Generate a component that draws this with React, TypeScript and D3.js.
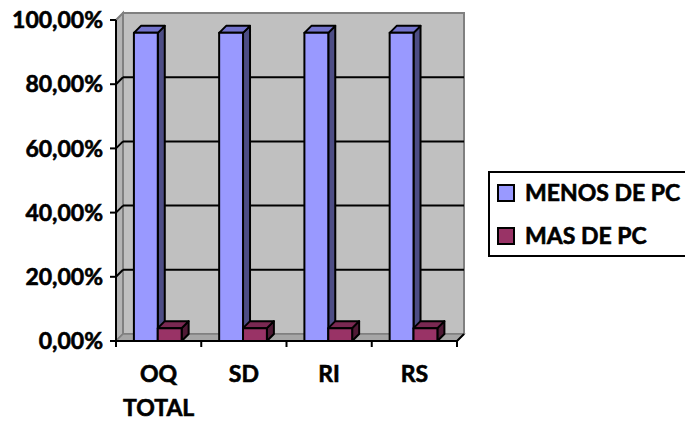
import React from 'react';
import * as d3 from 'd3';

const categories = ['OQ TOTAL', 'SD', 'RI', 'RS'];
const menosDePc = [0.96, 0.96, 0.96, 0.96];
const masDePc = [0.04, 0.04, 0.04, 0.04];
const yTicks = [0, 0.2, 0.4, 0.6, 0.8, 1];

const seriesList = [
  { name: 'MENOS DE PC', values: menosDePc, front: '#9999FF', side: '#4D4D85', top: '#7373CC' },
  { name: 'MAS DE PC', values: masDePc, front: '#993366', side: '#4F1A35', top: '#7A2952' },
];

const width = 685;
const height = 424;
const plot = { left: 116, right: 457, top: 20, bottom: 341 };
const depth = { dx: 7, dy: -7 };
const font = 'Lato, "Open Sans", sans-serif';

// thickens the bold a little, closer to the original's heavy labels
const textStyle = {
  fontFamily: font,
  fontWeight: 700,
  fontSize: 23,
  stroke: '#000',
  strokeWidth: 0.6,
};

const App: React.FC = () => {
  const y = d3.scaleLinear().domain([0, 1]).range([plot.bottom, plot.top]);
  const x = d3.scaleBand<string>().domain(categories).range([plot.left, plot.right]);
  const bw = x.bandwidth();
  const barW = bw * 0.28;
  const gapL = bw * 0.21;
  const { dx, dy } = depth;

  const pts = (p: [number, number][]) => p.map((q) => q.join(',')).join(' ');

  return (
    <div style={{ position: 'absolute', left: 0, top: 0 }}>
      <svg width={width} height={height} style={{ display: 'block', background: '#fff' }}>
        {/* back wall */}
        <rect
          x={plot.left + dx}
          y={y(1) + dy}
          width={plot.right - plot.left}
          height={y(0) - y(1)}
          fill="#C0C0C0"
          stroke="#808080"
          strokeWidth={2}
        />
        {/* side wall */}
        <polygon
          points={pts([
            [plot.left, y(0)],
            [plot.left + dx, y(0) + dy],
            [plot.left + dx, y(1) + dy],
            [plot.left, y(1)],
          ])}
          fill="#B4B4B4"
          stroke="#808080"
          strokeWidth={2}
        />
        {/* floor */}
        <polygon
          points={pts([
            [plot.left, y(0)],
            [plot.right, y(0)],
            [plot.right + dx, y(0) + dy],
            [plot.left + dx, y(0) + dy],
          ])}
          fill="#A6A6A6"
          stroke="#808080"
          strokeWidth={1.5}
        />
        {/* gridlines */}
        {yTicks.filter((t) => t > 0 && t < 1).map((t) => (
          <g key={t} stroke="#000" strokeWidth={2} fill="none">
            <line x1={plot.left} y1={y(t)} x2={plot.left + dx} y2={y(t) + dy} />
            <line x1={plot.left + dx} y1={y(t) + dy} x2={plot.right + dx} y2={y(t) + dy} />
          </g>
        ))}
        {/* bars */}
        {categories.map((c, i) => (
          <g key={c} stroke="#000" strokeWidth={2} strokeLinejoin="round">
            {seriesList.map((s, j) => {
              const x0 = (x(c) as number) + gapL + j * barW;
              const x1 = x0 + barW;
              const yt = y(s.values[i]);
              const yb = y(0);
              return (
                <g key={s.name}>
                  <polygon
                    points={pts([[x1, yt], [x1 + dx, yt + dy], [x1 + dx, yb + dy], [x1, yb]])}
                    fill={s.side}
                  />
                  <polygon
                    points={pts([[x0, yt], [x0 + dx, yt + dy], [x1 + dx, yt + dy], [x1, yt]])}
                    fill={s.top}
                  />
                  <rect x={x0} y={yt} width={barW} height={yb - yt} fill={s.front} />
                </g>
              );
            })}
          </g>
        ))}
        {/* axes */}
        <g stroke="#000" strokeWidth={2}>
          <line x1={plot.left} y1={y(1)} x2={plot.left} y2={y(0)} />
          <line x1={plot.left} y1={y(0)} x2={plot.right} y2={y(0)} />
          <line x1={plot.right} y1={y(0)} x2={plot.right + dx} y2={y(0) + dy} />
          {yTicks.map((t) => (
            <line key={t} x1={plot.left - 6} y1={y(t)} x2={plot.left} y2={y(t)} />
          ))}
          {categories.map((c) => (
            <line key={c} x1={x(c) as number} y1={y(0)} x2={x(c) as number} y2={y(0) + 6} />
          ))}
          <line x1={plot.right} y1={y(0)} x2={plot.right} y2={y(0) + 6} />
        </g>
        {/* y labels */}
        {yTicks.map((t) => (
          <text key={t} x={plot.left - 13} y={y(t)} dy="0.36em" textAnchor="end" style={textStyle}>
            {(t * 100).toFixed(2).replace('.', ',') + '%'}
          </text>
        ))}
        {/* x labels */}
        {categories.map((c) => (
          <text key={c} x={(x(c) as number) + bw / 2} y={382} textAnchor="middle" style={textStyle}>
            {c.split(' ').map((w, k) => (
              <tspan key={w} x={(x(c) as number) + bw / 2} dy={k === 0 ? 0 : 34}>
                {w}
              </tspan>
            ))}
          </text>
        ))}
        {/* legend */}
        <rect x={489} y={172} width={200} height={84} fill="#fff" stroke="#000" strokeWidth={2} />
        {seriesList.map((s, j) => (
          <g key={s.name} transform={`translate(498, ${185 + j * 43})`}>
            <rect width={16} height={16} fill={s.front} stroke="#000" strokeWidth={2} />
            <text x={27} y={8} dy="0.36em" style={textStyle}>
              {s.name}
            </text>
          </g>
        ))}
      </svg>
    </div>
  );
};

export default App;
